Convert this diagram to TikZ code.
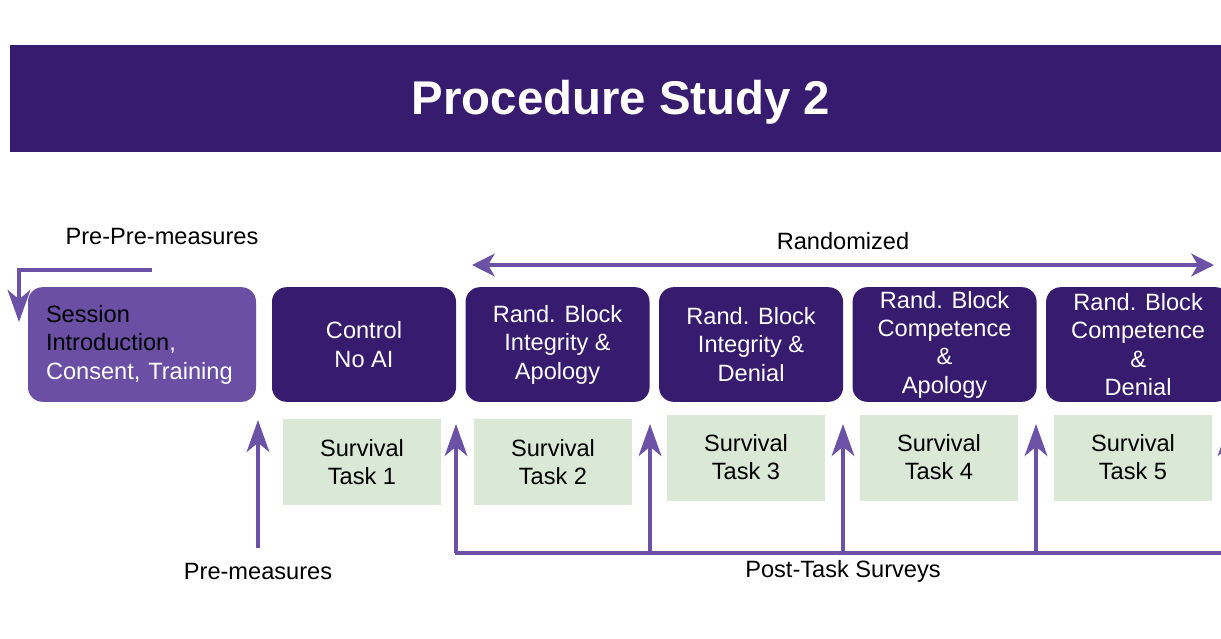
\documentclass[tikz,border=0pt]{standalone}
\usepackage{fontspec}
\setmainfont{Liberation Sans}
\usetikzlibrary{arrows.meta,positioning}
\definecolor{darkpurple}{RGB}{55,27,110}
\definecolor{lightpurple}{RGB}{106,79,165}
\definecolor{arrowpurple}{RGB}{107,82,167}
\definecolor{taskgreen}{RGB}{218,233,213}

\begin{document}
\begin{tikzpicture}[
    x=0.75pt, y=-0.75pt,
    myblock/.style={
    rounded corners=11pt,
    fill=darkpurple,
    text=white,
    inner sep=0pt,
    minimum width=138pt,
    minimum height=86pt,
    align=center,
    font=\fontsize{17.7}{21.3}\selectfont},
    mytask/.style={
    fill=taskgreen,
    inner sep=0pt,
    minimum width=118.5pt,
    minimum height=64.5pt,
    align=center,
    font=\fontsize{17.7}{21}\selectfont},
    mylabel/.style={font=\fontsize{17.7}{21}\selectfont},
    myarrow/.style={draw=arrowpurple, line width=3pt,
    -{Stealth[length=24pt,width=17pt,inset=7pt]}},
    myline/.style={draw=arrowpurple, line width=3pt},
    node distance=6.75pt
    ]
    \clip (0,0) rectangle (1221,639);

    % title banner
    \fill[darkpurple] (10,45) rectangle (1221,152);
    \node[text=white, font=\fontsize{35.5}{40}\selectfont\bfseries] (title) at (621,102.5) {Procedure Study 2};

    % blocks
    \node[myblock, fill=lightpurple, text=black, align=left, text width=144pt,
    inner xsep=13.5pt, minimum width=171pt] (session) at (142,344.5)
    {Session\\Introduction\textcolor{white}{,}\\\textcolor{white}{Consent, Training}};
    \node[myblock] (control) at (364,344.5) {Control\\No AI};
    \node[myblock, right= of control] (rb1) {Rand. Block\\Integrity \&\\Apology};
    \node[myblock, right= of rb1] (rb2) {Rand. Block\\Integrity \&\\Denial};
    \node[myblock, right= of rb2] (rb3) {Rand. Block\\Competence\\\&\\Apology};
    \node[myblock, right= of rb3] (rb4) {Rand. Block\\Competence\\\&\\Denial};

    % survival tasks
    \node[mytask] (task1) at (362,462) {Survival\\Task 1};
    \node[mytask] (task2) at (553,462) {Survival\\Task 2};
    \node[mytask] (task3) at (746,457.5) {Survival\\Task 3};
    \node[mytask] (task4) at (939,457.5) {Survival\\Task 4};
    \node[mytask] (task5) at (1133,457.5) {Survival\\Task 5};

    % labels
    \node[mylabel] (preprelabel) at (162,236) {Pre-Pre-measures};
    \node[mylabel] (randlabel) at (843,241) {Randomized};
    \node[mylabel] (prelabel) at (258,571) {Pre-measures};
    \node[mylabel] (postlabel) at (843,571) {Post-Task Surveys};

    % pre-pre-measures
    \coordinate (ppstart) at (152,270);
    \coordinate (ppend) at (19,322);
    \draw[myarrow] (ppstart) -| (ppend);

    % randomized
    \coordinate (randl) at (472,265);
    \coordinate (randr) at (1214,265);
    \draw[myline, {Stealth[length=17pt,width=17pt,inset=5pt]}-{Stealth[length=17pt,width=17pt,inset=5pt]}] (randl) -- (randr);

    % pre-measures
    \coordinate (prebase) at (258,548);
    \coordinate (pretip) at (258,420);
    \draw[myarrow] (prebase) -- (pretip);

    % post-task surveys
    \coordinate (postl) at (454.5,553);
    \coordinate (postr) at (1235,553);
    \draw[myline] (postl) -- (postr);
    \foreach \x [count=\i] in {456,650,843,1036,1229}{
        \coordinate (pb\i) at (\x,553);
        \coordinate (pt\i) at (\x,424);
        \draw[myarrow] (pb\i) -- (pt\i);
    }
\end{tikzpicture}
\end{document}
